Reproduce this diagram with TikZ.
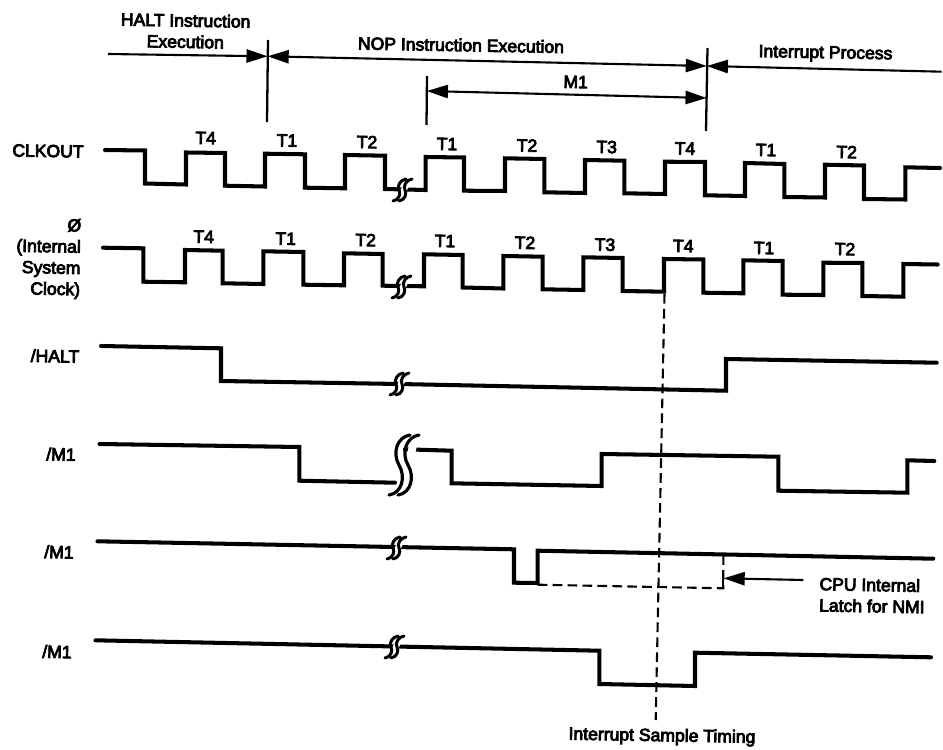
\documentclass[tikz,border=0pt]{standalone}
\usepackage{fontspec}
\setmainfont{Liberation Sans}
\usetikzlibrary{arrows.meta}
\newcommand{\thicktext}{\special{pdf:code 2 Tr 0.45 w}}
\tikzset{
  x=0.02cm,y=-0.02cm,
  sig/.style={line width=2.3pt,line join=miter,line cap=round},
  thinline/.style={line width=1.3pt},
  dim/.style={line width=1.2pt,{Triangle[length=12pt,width=7.5pt]}-{Triangle[length=12pt,width=7.5pt]}},
  dimr/.style={line width=1.2pt,-{Triangle[length=12pt,width=7.5pt]}},
  dsh/.style={line width=1.2pt,dash pattern=on 5.5pt off 3pt},
  lab/.style={inner sep=0pt,font=\fontsize{10}{12.1}\selectfont\thicktext,rotate=-1},
  tl/.style={lab},
  brk/.pic={
    \fill[white] (6,-8) -- (12,-8) -- (4,8) -- (-3,8) -- cycle;
    \draw[line width=1.7pt,line cap=round] (7,-11) .. controls (1,-10) and (-2,-4) .. (0,0) .. controls (2,4) and (0,10) .. (-6,11);
    \draw[line width=1.7pt,line cap=round] (13,-11) .. controls (7,-10) and (4,-4) .. (6,0) .. controls (8,4) and (6,10) .. (0,11);
  },
  bigbrk/.pic={
    \fill[white] (10,-25) -- (18,-25) -- (8,25) -- (0,25) -- cycle;
    \draw[line width=1.8pt,line cap=round] (10,-30) .. controls (-3,-28) and (-8,-12) .. (-1,0) .. controls (6,12) and (2,28) .. (-11,30);
    \draw[line width=1.8pt,line cap=round] (19,-30) .. controls (6,-28) and (1,-12) .. (8,0) .. controls (15,12) and (11,28) .. (-2,30);
  }
}
\begin{document}
\begin{tikzpicture}
\useasboundingbox (0,0) rectangle (943,750);
% markers
\coordinate (haltstart) at (108,54);
\coordinate (v1t) at (268,40); \coordinate (v1b) at (267,122);
\coordinate (v1m) at (267.6,56.3);
\coordinate (v2t) at (427,76); \coordinate (v2b) at (426.5,125);
\coordinate (v2m) at (426.8,91);
\coordinate (v3t) at (707.5,48); \coordinate (v3b) at (706,131);
\coordinate (v3a) at (706.8,66); \coordinate (v3c) at (706.6,98);
\coordinate (intend) at (941.7,71.7);
\draw[thinline] (v1t) -- (v1b);
\draw[thinline] (v2t) -- (v2b);
\draw[thinline] (v3t) -- (v3b);
\draw[dimr] (haltstart) -- (v1m);
\draw[dim] (v1m) -- (v3a);
\draw[dim] (v2m) -- (v3c);
\draw[dimr] (intend) -- (v3a);
% CLKOUT
\draw[sig] (105,150) -- (145,150.5) -- (145,183.5) -- (186,184.5) -- (186,152.5) -- (225,153) -- (225,185.7) -- (265,186.5) -- (265,153.7) -- (305,154.3) -- (305,187.7) -- (345,188.3) -- (345,155) -- (385,155.7) -- (385,189) -- (425.7,190) -- (425.7,157) -- (464,157.5) -- (464,190.7) -- (505,191) -- (505,158.3) -- (544.3,159) -- (544.3,192.3) -- (585,193) -- (585,160) -- (624.3,160.7) -- (624.3,193.3) -- (665,194) -- (665,161.7) -- (705,162) -- (705,195.3) -- (745,196) -- (745,163) -- (784.3,164) -- (784.3,197) -- (825,197.5) -- (825,164.7) -- (864,165.5) -- (864,199) -- (905.3,199.5) -- (905.3,167.3) -- (940,168);
\pic at (399,190) {brk};
% Phi
\draw[sig] (103,247.7) -- (143.3,248.3) -- (143.3,281.7) -- (185,282.3) -- (185,250) -- (222.7,250.7) -- (222.7,283.3) -- (263.3,284) -- (263.3,251.3) -- (303.3,252) -- (303.3,284.7) -- (344,285.3) -- (344,253.3) -- (382.7,254) -- (382.7,285.7) -- (424,286.3) -- (424,254.3) -- (462.7,255) -- (462.7,287.5) -- (503.3,288.5) -- (503.3,256) -- (542.7,256.7) -- (542.7,289.3) -- (583.3,290) -- (583.3,257.3) -- (622.7,258) -- (622.7,291) -- (664,291.7) -- (664,259) -- (703.3,259.5) -- (703.3,292.7) -- (743.3,293.3) -- (743.3,260.3) -- (782.7,261) -- (782.7,294.7) -- (823.3,295) -- (823.3,262.7) -- (862.3,263) -- (862.3,296) -- (903.3,296.7) -- (903.3,264) -- (937.7,264.5);
\pic at (398,287) {brk};
% HALT
\draw[sig] (101,346) -- (221,348.3) -- (221,381) -- (399,384) -- (726,390.7) -- (726,359) -- (936.7,362.7);
\pic at (396,384) {brk};
% M1 a
\draw[sig] (99.5,444) -- (299.3,447) -- (299.3,480.7) -- (395,482.7);
\draw[sig] (405,449.3) -- (451.7,450.7) -- (451.7,483.3) -- (601.7,486) -- (601.7,454) -- (778.3,456.7) -- (778.3,490.7) -- (907.3,492.7) -- (907.3,460.3) -- (934.3,461);
\pic at (400,465) {bigbrk};
% M1 b
\draw[sig] (97.5,541.3) -- (514,549.3) -- (514,582.7) -- (537.7,583) -- (537.7,550.7) -- (933.3,558.7);
\pic at (393,548) {brk};
% M1 c
\draw[sig] (95.5,640.3) -- (599.3,650.7) -- (599.3,684) -- (695,686) -- (695,652.7) -- (931,657.3);
\pic at (391,647) {brk};
% dashed
\coordinate (sampt) at (664.5,294);
\coordinate (sampb) at (655.7,720);
\coordinate (la) at (537.7,584.7);
\coordinate (lb) at (723.3,588.3);
\coordinate (lc) at (723.3,555);
\draw[dsh] (sampt) -- (sampb);
\draw[dsh] (la) -- (lb) -- (lc);
\coordinate (lat) at (723.6,578.3);
\coordinate (lcpu) at (803.3,580);
\draw[thinline] (723.3,570) -- (723.3,587);
\draw[dimr] (lcpu) -- (lat);
% labels top
\node[lab,align=center] (lhalt) at (185.5,31) {HALT Instruction\\Execution};
\node[lab] (lnop) at (461,45) {NOP Instruction Execution};
\node[lab] (lint) at (825.5,54) {Interrupt Process};
\node[lab] (lm1) at (575.7,82) {M1};
% signal labels
\node[lab] (nclk) at (48,151) {CLKOUT};
\node[lab,align=right,anchor=east] (nphi) at (81,259) {Ø\\(Internal\\System\\Clock)};
\node[lab] (nhalt) at (55,356) {/HALT};
\node[lab] (nm1a) at (61,454.3) {/M1};
\node[lab] (nm1b) at (59,552) {/M1};
\node[lab] (nm1c) at (57,651.7) {/M1};
\node[lab] (nsamp) at (662,736.7) {Interrupt Sample Timing};
\node[lab,align=left,anchor=west] (ncpu) at (819,594.5) {CPU Internal\\Latch for NMI};
% T labels clkout
\node[tl] (c1) at (205.7,138) {T4};
\node[tl] (c2) at (287,140.5) {T1};
\node[tl] (c3) at (367,142) {T2};
\node[tl] (c4) at (447,144) {T1};
\node[tl] (c5) at (527,145.5) {T2};
\node[tl] (c6) at (606.7,147) {T3};
\node[tl] (c7) at (685,148.5) {T4};
\node[tl] (c8) at (766,150) {T1};
\node[tl] (c9) at (846.7,152) {T2};
% T labels phi
\node[tl] (p1) at (203.7,236.7) {T4};
\node[tl] (p2) at (285.7,238.7) {T1};
\node[tl] (p3) at (365.7,240) {T2};
\node[tl] (p4) at (445,241) {T1};
\node[tl] (p5) at (525,242.7) {T2};
\node[tl] (p6) at (605,244.7) {T3};
\node[tl] (p7) at (683.3,246) {T4};
\node[tl] (p8) at (764,248) {T1};
\node[tl] (p9) at (845,249) {T2};
\end{tikzpicture}
\end{document}
